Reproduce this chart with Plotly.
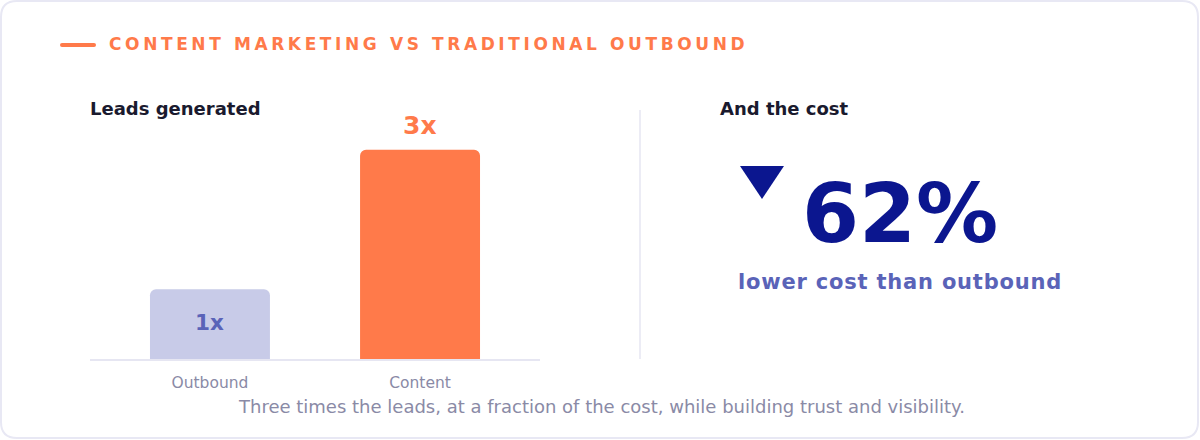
import plotly.graph_objects as go

# data
categories = ["Outbound", "Content"]
leads = [1, 3]
lead_labels = [f"{v}x" for v in leads]
cost_drop_pct = 62

W, H = 1200, 440

ORANGE = "#ff7a4a"
LAVENDER = "#c8cbe8"
SLATE = "#5a63b8"
NAVY = "#0b168f"
INK = "#1a1a2e"
GREY = "#8a8aa6"
LINE = "#e6e6f2"
FONT = "DejaVu Sans"


def px(x):
    return x / W


def py(y):
    return 1 - y / H


def rounded_rect(x0, y0, x1, y1, r):
    # pixel coords -> paper path, corners done with quadratic curves
    pts = [
        f"M {px(x0 + r)} {py(y0)}",
        f"L {px(x1 - r)} {py(y0)}",
        f"Q {px(x1)} {py(y0)} {px(x1)} {py(y0 + r)}",
        f"L {px(x1)} {py(y1 - r)}",
        f"Q {px(x1)} {py(y1)} {px(x1 - r)} {py(y1)}",
        f"L {px(x0 + r)} {py(y1)}",
        f"Q {px(x0)} {py(y1)} {px(x0)} {py(y1 - r)}",
        f"L {px(x0)} {py(y0 + r)}",
        f"Q {px(x0)} {py(y0)} {px(x0 + r)} {py(y0)}",
        "Z",
    ]
    return " ".join(pts)


fig = go.Figure()

fig.add_trace(
    go.Bar(
        x=categories,
        y=leads,
        width=0.571,
        marker=dict(color=[LAVENDER, ORANGE], cornerradius=6, line_width=0),
        hoverinfo="skip",
        showlegend=False,
    )
)

# value labels: small bar gets it inside, the tall one on top
fig.add_annotation(
    x=categories[0], y=leads[0] / 2, xref="x", yref="y",
    text=f"<b>{lead_labels[0]}</b>", showarrow=False, yshift=2,
    font=dict(family=FONT, size=21.5, color=SLATE),
)
fig.add_annotation(
    x=categories[1], y=leads[1], xref="x", yref="y",
    text=f"<b>{lead_labels[1]}</b>", showarrow=False,
    yanchor="bottom", yshift=8,
    font=dict(family=FONT, size=25, color=ORANGE),
)

texts = [
    (107, 44, "left", 17, ORANGE,
     '<b><span style="letter-spacing:3.6px">CONTENT MARKETING VS TRADITIONAL OUTBOUND</span></b>'),
    (88, 108, "left", 18, INK, "<b>Leads generated</b>"),
    (718, 108, "left", 18, INK, "<b>And the cost</b>"),
    (900, 213, "center", 82, NAVY, f"<b>{cost_drop_pct}%</b>"),
    (900, 282, "center", 21, SLATE,
     '<b><span style="letter-spacing:0.8px">lower cost than outbound</span></b>'),
    (601, 406, "center", 18, GREY,
     "Three times the leads, at a fraction of the cost, while building trust and visibility."),
]
for x, y, anchor, size, color, t in texts:
    fig.add_annotation(
        x=px(x), y=py(y), xref="paper", yref="paper",
        xanchor=anchor, yanchor="middle", text=t, showarrow=False,
        font=dict(family=FONT, size=size, color=color),
    )

shapes = [
    # card
    dict(type="path", path=rounded_rect(1, 1, 1198, 438, 16),
         line=dict(color="#e8e8f4", width=2), fillcolor="rgba(0,0,0,0)", layer="below"),
    # title dash
    dict(type="path", path=rounded_rect(60, 43, 96, 47, 2),
         line_width=0, fillcolor=ORANGE),
    # divider
    dict(type="line", x0=px(640), x1=px(640), y0=py(110), y1=py(359),
         line=dict(color=LINE, width=1.5)),
    # down triangle
    dict(type="path",
         path=f"M {px(740)} {py(166)} L {px(784)} {py(166)} L {px(762)} {py(199)} Z",
         line_width=0, fillcolor=NAVY),
]
for s in shapes:
    s.setdefault("xref", "paper")
    s.setdefault("yref", "paper")
    fig.add_shape(**s)

fig.update_xaxes(
    domain=[px(90), px(540)],
    range=[-0.571, 1.571],
    showline=True, linecolor=LINE, linewidth=2,
    showgrid=False, zeroline=False,
    ticks="outside", ticklen=8, tickcolor="rgba(0,0,0,0)",
    tickfont=dict(family=FONT, size=15.5, color=GREY),
    fixedrange=True,
)
fig.update_yaxes(
    domain=[py(359), py(115)],
    range=[0, 3.5],
    visible=False, showgrid=False, zeroline=False,
    fixedrange=True,
)

fig.update_layout(
    width=W, height=H,
    margin=dict(l=0, r=0, t=0, b=0),
    paper_bgcolor="white", plot_bgcolor="white",
    bargap=0.3,
    font=dict(family=FONT),
)

fig.write_html(
    "out.html",
    config={"displayModeBar": False},
    post_script="document.body.style.margin='0';document.body.style.overflow='hidden';",
)
